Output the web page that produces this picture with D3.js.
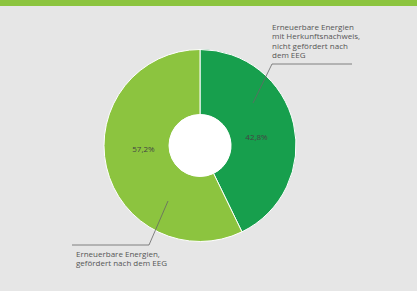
<!DOCTYPE html>
<html>
<head>
<meta charset="utf-8">
<script src="https://cdn.jsdelivr.net/npm/d3@7"></script>
<style>
  body { margin: 0; background: #e6e6e6; }
  svg { display: block; font-family: "Open Sans", sans-serif; }
</style>
</head>
<body>
<script>
// shares of the two categories, clockwise from 12 o'clock
const categories = ["Erneuerbare Energien mit Herkunftsnachweis, nicht gefördert nach dem EEG",
                    "Erneuerbare Energien, gefördert nach dem EEG"];
const values = [42.8, 57.2];
const valueLabels = ["42,8%", "57,2%"];
const labelLines = [
  ["Erneuerbare Energien", "mit Herkunftsnachweis,", "nicht gefördert nach", "dem EEG"],
  ["Erneuerbare Energien,", "gefördert nach dem EEG"]
];
const colors = ["#179f4d", "#8cc43f"];

const width = 417, height = 291;
const cx = 200, cy = 145.5, outerR = 96, innerR = 31;

const svg = d3.select("body").append("svg")
  .attr("width", width)
  .attr("height", height);

svg.append("rect").attr("width", width).attr("height", height).attr("fill", "#e6e6e6");
svg.append("rect").attr("width", width).attr("height", 6).attr("fill", "#8cc43f");

const pie = d3.pie().sort(null).value(d => d);
const arcs = pie(values);
const arc = d3.arc().innerRadius(innerR).outerRadius(outerR);

const g = svg.append("g").attr("transform", `translate(${cx},${cy})`);

g.selectAll("path.slice")
  .data(arcs)
  .enter().append("path")
  .attr("class", "slice")
  .attr("d", arc)
  .attr("fill", (d, i) => colors[i])
  .attr("stroke", "#ffffff")
  .attr("stroke-width", 1);

g.append("circle").attr("r", innerR).attr("fill", "#ffffff");

// percentage labels inside the ring, flattened towards the horizontal
const pctArc = d3.arc().innerRadius(58).outerRadius(58);
g.selectAll("text.pct")
  .data(arcs)
  .enter().append("text")
  .attr("class", "pct")
  .attr("x", d => pctArc.centroid(d)[0])
  .attr("y", d => pctArc.centroid(d)[1] * 0.45 - 2)
  .attr("dy", "0.35em")
  .attr("text-anchor", "middle")
  .attr("font-size", 8)
  .attr("fill", "#444")
  .text((d, i) => valueLabels[i]);

// leader lines: start inside slice, elbow, horizontal run
const leaders = [
  { pts: [[253, 103], [272, 64], [352, 64]], tx: 272, ty: 27 },
  { pts: [[168, 201], [149, 245], [72, 245]], tx: 76, ty: 254 }
];

leaders.forEach((l, i) => {
  svg.append("path")
    .attr("d", d3.line()(l.pts))
    .attr("fill", "none")
    .attr("stroke", "#666")
    .attr("stroke-width", 0.8);
  const t = svg.append("text")
    .attr("x", l.tx)
    .attr("y", l.ty)
    .attr("font-size", 8)
    .attr("fill", "#555");
  labelLines[i].forEach((line, j) => {
    t.append("tspan")
      .attr("x", l.tx)
      .attr("dy", j === 0 ? "0.35em" : 9.5)
      .text(line);
  });
});
</script>
</body>
</html>
